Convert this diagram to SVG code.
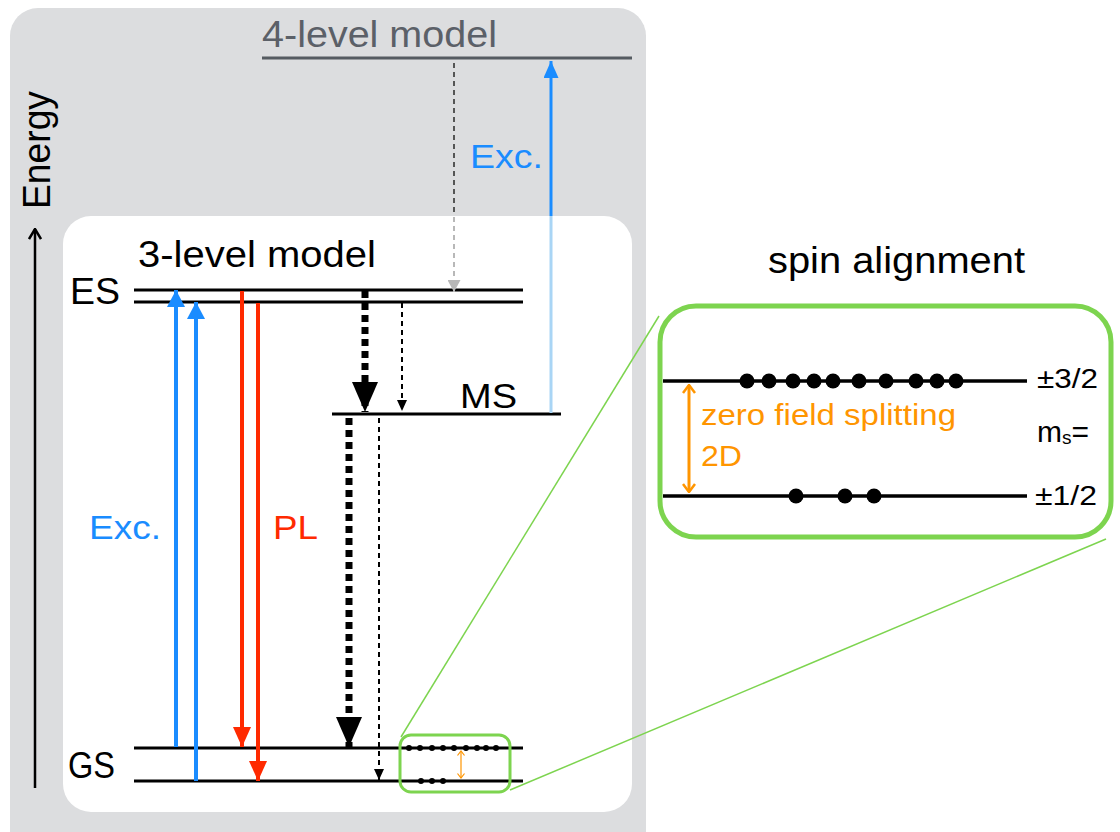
<svg xmlns="http://www.w3.org/2000/svg" width="1120" height="832" viewBox="0 0 1120 832">
<style>
text{font-family:"Liberation Sans",Arial,sans-serif;}
.lvl{stroke:#000;stroke-width:3;fill:none}
.big{font-size:37px;fill:#000}
.blue{stroke:#1a8cff;stroke-width:4}
.red{stroke:#ff2a00;stroke-width:4}
.thick{stroke:#000;stroke-width:7;stroke-dasharray:7 5}
.thin{stroke:#000;stroke-width:2;stroke-dasharray:5 4}
.grn{stroke:#7dd44f;fill:none}
.dot{fill:#000}
</style>
<defs>
<marker id="hBlue" markerUnits="userSpaceOnUse" markerWidth="17" markerHeight="18" refX="17" refY="9" orient="auto"><path d="M0,0L17,9L0,18z" fill="#1a8cff"/></marker>
<marker id="hBlue2" markerUnits="userSpaceOnUse" markerWidth="17" markerHeight="15" refX="17" refY="7.5" orient="auto"><path d="M0,0L17,7.5L0,15z" fill="#1a8cff"/></marker>
<marker id="hRed" markerUnits="userSpaceOnUse" markerWidth="20" markerHeight="18" refX="20" refY="9" orient="auto"><path d="M0,0L20,9L0,18z" fill="#ff2a00"/></marker>
<marker id="hBig" markerUnits="userSpaceOnUse" markerWidth="30" markerHeight="26" refX="30" refY="13" orient="auto"><path d="M0,0L30,13L0,26z" fill="#000"/></marker>
<marker id="hThin" markerUnits="userSpaceOnUse" markerWidth="11" markerHeight="10" refX="11" refY="5" orient="auto"><path d="M0,0L11,5L0,10z" fill="#000"/></marker>
<marker id="hGray" markerUnits="userSpaceOnUse" markerWidth="12" markerHeight="13" refX="12" refY="6.5" orient="auto"><path d="M0,0L12,6.5L0,13z" fill="#b8b8b8"/></marker>
<marker id="hOpen" markerUnits="userSpaceOnUse" markerWidth="12" markerHeight="14" refX="11" refY="7" orient="auto"><path d="M1,1L11,7L1,13" fill="none" stroke="#000" stroke-width="2.5"/></marker>
<marker id="hOr" markerUnits="userSpaceOnUse" markerWidth="10" markerHeight="14" refX="9" refY="7" orient="auto-start-reverse"><path d="M1,1L9,7L1,13" fill="none" stroke="#ff9500" stroke-width="2.5"/></marker>
<marker id="hOrS" markerUnits="userSpaceOnUse" markerWidth="6" markerHeight="8" refX="5" refY="4" orient="auto-start-reverse"><path d="M0.5,0.5L5,4L0.5,7.5" fill="none" stroke="#ff9500" stroke-width="1.2"/></marker>
</defs>

<g id="panel-4level">
<rect x="10" y="8" width="636" height="850" rx="28" fill="#dcdddf"/>
<text x="262" y="47" font-size="37" fill="#5b6068" textLength="235" lengthAdjust="spacingAndGlyphs">4-level model</text>
<line x1="262" y1="58" x2="632" y2="58" stroke="#555b61" stroke-width="3"/>
<text x="470" y="168" font-size="34" fill="#1a8cff" textLength="73" lengthAdjust="spacingAndGlyphs">Exc.</text>
</g>

<g id="energy-axis">
<line x1="35" y1="788" x2="35" y2="229" stroke="#000" stroke-width="2.5" marker-end="url(#hOpen)"/>
<text transform="translate(50,209) rotate(-90)" font-size="38" fill="#000" textLength="118" lengthAdjust="spacingAndGlyphs">Energy</text>
</g>

<g id="connectors-4level">
<line x1="454" y1="63" x2="454" y2="217" stroke="#555" stroke-width="2" stroke-dasharray="5 4"/>
<line x1="551" y1="217" x2="551" y2="61" stroke="#1a8cff" stroke-width="3" marker-end="url(#hBlue2)"/>
</g>

<g id="panel-3level">
<rect x="63" y="216" width="569" height="596" rx="28" fill="#fff"/>
<text x="138" y="267" class="big" textLength="238" lengthAdjust="spacingAndGlyphs">3-level model</text>
</g>

<g id="node-ES">
<text x="70" y="304" class="big" textLength="50" lengthAdjust="spacingAndGlyphs">ES</text>
<line x1="134" y1="290" x2="523" y2="290" class="lvl"/>
<line x1="134" y1="302" x2="523" y2="302" class="lvl"/>
</g>

<g id="node-MS">
<text x="460" y="408" font-size="35" fill="#000" textLength="57" lengthAdjust="spacingAndGlyphs">MS</text>
<line x1="332" y1="414" x2="561" y2="414" class="lvl"/>
</g>

<g id="node-GS">
<text x="68" y="778" class="big" textLength="47" lengthAdjust="spacingAndGlyphs">GS</text>
<line x1="134" y1="748" x2="523" y2="748" class="lvl"/>
<line x1="134" y1="781" x2="523" y2="781" class="lvl"/>
</g>

<g id="connectors">
<line x1="454" y1="217" x2="454" y2="292" stroke="#b8b8b8" stroke-width="2" stroke-dasharray="5 4" marker-end="url(#hGray)"/>
<line x1="551" y1="413" x2="551" y2="216" stroke="#a9d5f5" stroke-width="3"/>
<line x1="176" y1="747" x2="176" y2="290" class="blue" marker-end="url(#hBlue)"/>
<line x1="196" y1="781" x2="196" y2="302" class="blue" marker-end="url(#hBlue)"/>
<line x1="242" y1="291" x2="242" y2="747" class="red" marker-end="url(#hRed)"/>
<line x1="258" y1="303" x2="258" y2="781" class="red" marker-end="url(#hRed)"/>
<line x1="365" y1="291" x2="365" y2="412" class="thick" marker-end="url(#hBig)"/>
<line x1="402" y1="303" x2="402" y2="411" class="thin" marker-end="url(#hThin)"/>
<line x1="349" y1="418" x2="349" y2="747" class="thick" stroke-dasharray="13 8" marker-end="url(#hBig)"/>
<line x1="379" y1="418" x2="379" y2="780" class="thin" marker-end="url(#hThin)"/>
<line x1="401" y1="737" x2="659" y2="316" class="grn" stroke-width="1.5"/>
<line x1="510" y1="790" x2="1106" y2="539" class="grn" stroke-width="1.5"/>
</g>

<text x="89" y="539" font-size="34" fill="#1a8cff" textLength="72" lengthAdjust="spacingAndGlyphs">Exc.</text>
<text x="273" y="539" font-size="34" fill="#ff2a00" textLength="45" lengthAdjust="spacingAndGlyphs">PL</text>

<g id="zoom-small">
<rect x="400" y="735" width="110" height="57" rx="11" class="grn" stroke-width="3"/>
<g class="dot">
<circle cx="409" cy="748" r="3"/><circle cx="420" cy="748" r="3"/><circle cx="432" cy="748" r="3"/><circle cx="443" cy="748" r="3"/><circle cx="454" cy="748" r="3"/><circle cx="466" cy="748" r="3"/><circle cx="477" cy="748" r="3"/><circle cx="486" cy="748" r="3"/><circle cx="496" cy="748" r="3"/>
<circle cx="421" cy="781" r="3"/><circle cx="432" cy="781" r="3"/><circle cx="443" cy="781" r="3"/>
</g>
<line x1="461" y1="751" x2="461" y2="778" stroke="#ff9500" stroke-width="1.2" marker-start="url(#hOrS)" marker-end="url(#hOrS)"/>
</g>

<g id="spin-alignment">
<text x="768" y="273" font-size="36" fill="#000" textLength="257" lengthAdjust="spacingAndGlyphs">spin alignment</text>
<rect x="660" y="306" width="451" height="231" rx="36" class="grn" stroke-width="5"/>
<line x1="663" y1="381" x2="1027" y2="381" stroke="#000" stroke-width="3.5"/>
<line x1="663" y1="496" x2="1027" y2="496" stroke="#000" stroke-width="3.5"/>
<g class="dot">
<circle cx="747" cy="381" r="7.5"/><circle cx="769" cy="381" r="7.5"/><circle cx="793" cy="381" r="7.5"/><circle cx="814" cy="381" r="7.5"/><circle cx="833" cy="381" r="7.5"/><circle cx="859" cy="381" r="7.5"/><circle cx="886" cy="381" r="7.5"/><circle cx="916" cy="381" r="7.5"/><circle cx="937" cy="381" r="7.5"/><circle cx="956" cy="381" r="7.5"/>
<circle cx="796" cy="496" r="7.5"/><circle cx="845" cy="496" r="7.5"/><circle cx="874" cy="496" r="7.5"/>
</g>
<line x1="689" y1="385" x2="689" y2="492" stroke="#ff9500" stroke-width="3" marker-start="url(#hOr)" marker-end="url(#hOr)"/>
<text x="701" y="425" font-size="29" fill="#ff9500" textLength="255" lengthAdjust="spacingAndGlyphs">zero field splitting</text>
<text x="701" y="466" font-size="29" fill="#ff9500" textLength="41" lengthAdjust="spacingAndGlyphs">2D</text>
<text x="1037" y="388" font-size="28" fill="#000" textLength="61" lengthAdjust="spacingAndGlyphs">±3/2</text>
<text x="1035" y="505" font-size="28" fill="#000" textLength="62" lengthAdjust="spacingAndGlyphs">±1/2</text>
<text x="1037" y="442" font-size="30" fill="#000">m<tspan font-size="19" dy="2">s</tspan><tspan dy="-2">=</tspan></text>
</g>
</svg>
